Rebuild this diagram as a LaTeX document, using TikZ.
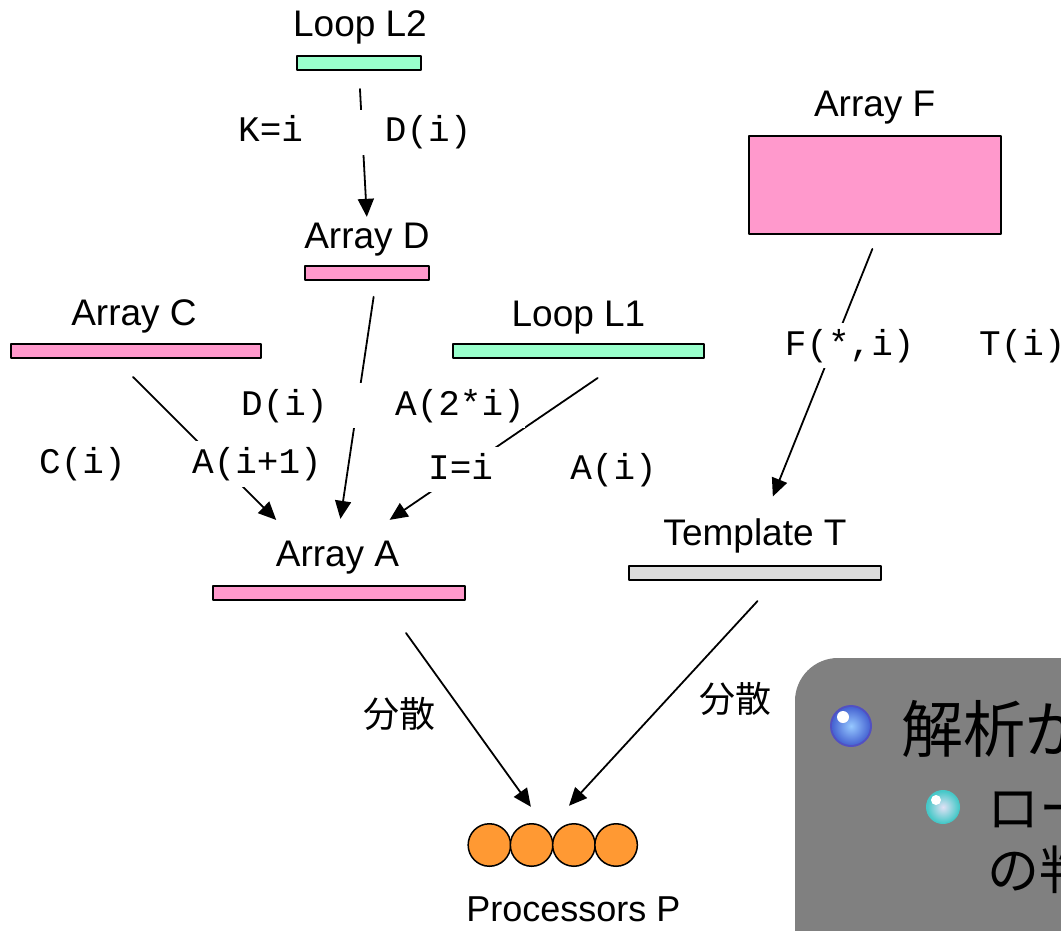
\documentclass[tikz,border=0pt]{standalone}
\usepackage{fontspec}
\setmainfont{Liberation Sans}
\newfontfamily\monofam{Liberation Mono}
\newfontfamily\jpfam{Noto Sans CJK JP}
\usepackage{tikz}
\usetikzlibrary{arrows.meta}
\definecolor{arraypink}{RGB}{255,153,204}
\definecolor{loopgreen}{RGB}{153,255,204}
\definecolor{tmplgray}{RGB}{221,221,221}
\definecolor{procorange}{RGB}{255,153,51}
\definecolor{panelgray}{RGB}{128,128,128}
\definecolor{blueedge}{RGB}{70,100,210}
\definecolor{bluecore}{RGB}{150,200,255}
\definecolor{tealedge}{RGB}{70,200,200}
\definecolor{tealcore}{RGB}{225,225,245}

\begin{document}
\begin{tikzpicture}[line cap=round,line join=round,>={Triangle[length=18pt,width=16pt]},x=1.0pt,y=-1.0pt,
  arraybar/.style={draw=black,line width=2.pt,inner sep=0pt,minimum height=14pt},
  namelabel/.style={anchor=base,inner sep=2pt,font=\fontsize{37}{44}\selectfont},
  codelabel/.style={anchor=base west,fill=white,inner xsep=0pt,inner ysep=6pt,font=\monofam\fontsize{36}{40}\selectfont},
  kanjilabel/.style={inner sep=0pt,font=\jpfam\fontsize{36}{42}\selectfont},
  connector/.style={line width=1.8pt},
  procnode/.style={circle,draw=black,line width=1.5pt,fill=procorange,minimum size=42.5pt,inner sep=0pt}]
\useasboundingbox (0.,0.) rectangle (1061.,930.);
\clip(0.,0.) rectangle (1061.,930.);
\node[namelabel] (L2name) at (360.,36.7) {Loop L2};
\node[arraybar,fill=loopgreen,minimum width=124pt] (L2bar) at (359.,63.) {};
\node[namelabel] (Dname) at (367.,248.) {Array D};
\node[arraybar,fill=arraypink,minimum width=124pt] (Dbar) at (367.,273.) {};
\node[namelabel] (Cname) at (134.,325.) {Array C};
\node[arraybar,fill=arraypink,minimum width=250pt] (Cbar) at (136.,351.) {};
\node[namelabel] (L1name) at (578.5,326.) {Loop L1};
\node[arraybar,fill=loopgreen,minimum width=251pt] (L1bar) at (578.5,351.) {};
\node[namelabel] (Fname) at (874.7,116.) {Array F};
\node[arraybar,fill=arraypink,minimum width=252pt,minimum height=98pt] (Fbox) at (875.,185.) {};
\node[namelabel] (Tname) at (755.,545.) {Template T};
\node[arraybar,fill=tmplgray,minimum width=252pt] (Tbar) at (755.,573.) {};
\node[namelabel] (Aname) at (337.5,566.) {Array A};
\node[arraybar,fill=arraypink,minimum width=252pt] (Abar) at (339.,593.) {};
\node[procnode] (p1) at (489.4,845.) {};
\node[procnode] (p2) at (531.6,845.) {};
\node[procnode] (p3) at (573.9,845.) {};
\node[procnode] (p4) at (616.1,845.) {};
\node[namelabel,font=\fontsize{36}{42}\selectfont] (Pname) at (573.3,921.7) {Processors P};
\draw[connector,->,shorten <=18pt,shorten >=3.5pt] (L2bar.south) -- (Dname.north);
\draw[connector,->,shorten <=16pt,shorten >=19.7pt] ([xshift=9pt]Dbar.south) -- (Aname.north);
\draw[connector,->,shorten <=25.5pt,shorten >=26pt] ([xshift=-21pt]Cbar.south) -- ([xshift=21pt]Aname.north west);
\draw[connector,->,shorten <=33.7pt,shorten >=32.8pt] ([xshift=47pt]L1bar.south) -- ([xshift=25pt]Aname.north);
\draw[connector,->,shorten <=15pt,shorten >=21pt] ([xshift=3pt]Fbox.south) -- ([xshift=10pt]Tname.north);
\draw[connector,->,shorten <=39.4pt,shorten >=27.9pt] ([xshift=44pt]Abar.south) -- (p2.north east);
\draw[connector,->,shorten <=27.2pt,shorten >=32.2pt] ([xshift=21pt]Tbar.south) -- (p2.north east);
\node[codelabel] (KDlbl) at (238.,141.7) {K=i\hspace{82pt}D(i)};
\node[codelabel] (DAlbl) at (241.,415.) {D(i)\hspace{67.6pt}A(2*i)};
\node[codelabel] (CAlbl) at (39.,473.3) {C(i)\hspace{66.6pt}A(i+1)};
\node[codelabel] (IAlbl) at (428.,479.) {I=i\hspace{77.4pt}A(i)};
\node[codelabel] (FTlbl) at (784.7,355.) {F(*,i)\hspace{64.7pt}T(i)};
\node[kanjilabel] (distA) at (399.,714.) {分散};
\node[kanjilabel] (distT) at (735.,699.) {分散};
\fill[panelgray,rounded corners=43pt] (795.,658.) rectangle (1120.,990.);
\fill[blueedge!80!violet] (851.,726.) circle (21.);
\shade[inner color=bluecore,outer color=blueedge] (851.,726.) circle (19.);
\fill[white] (843.,717.) circle (6.);
\fill[tealedge] (943.,807.) circle (17.);
\shade[inner color=tealcore,outer color=tealedge] (943.,807.) circle (16.);
\fill[white] (936.,800.) circle (5.);
\node[anchor=base west,inner sep=0pt,font=\jpfam\fontsize{62}{62}\selectfont] (item1) at (901.,752.) {解析が};
\node[anchor=base west,inner sep=0pt,font=\jpfam\fontsize{52}{52}\selectfont] (item2a) at (987.,827.) {ロー};
\node[anchor=base west,inner sep=0pt,font=\jpfam\fontsize{52}{52}\selectfont] (item2b) at (987.,889.) {の判};
\end{tikzpicture}
\end{document}
